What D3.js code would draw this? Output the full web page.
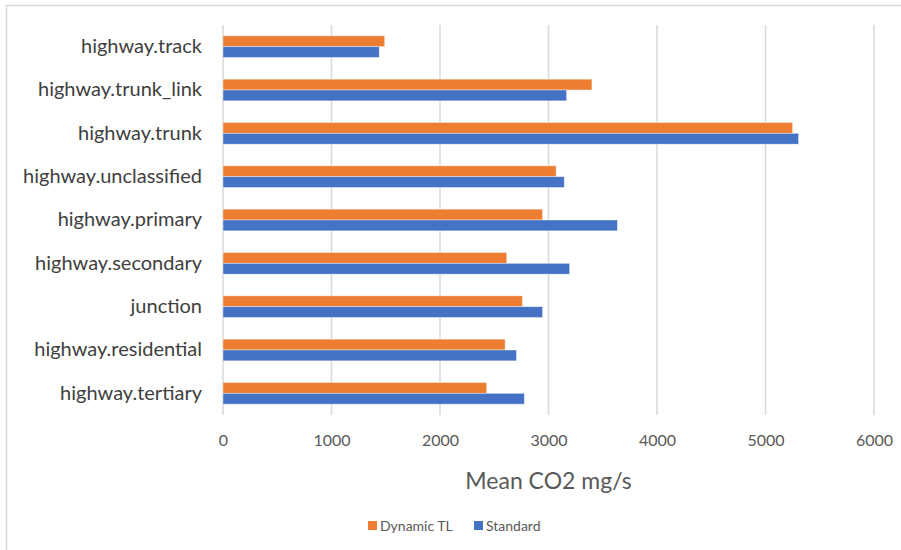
<!DOCTYPE html>
<html>
<head>
<meta charset="utf-8">
<script src="https://cdn.jsdelivr.net/npm/d3@7"></script>
<style>
body { margin: 0; background: #fff; }
text { font-family: Lato, "Open Sans", sans-serif; }
</style>
</head>
<body>
<svg id="svg" width="901" height="550"></svg>
<script>
// data, top to bottom as in the chart
var categories = ["highway.track", "highway.trunk_link", "highway.trunk", "highway.unclassified",
	"highway.primary", "highway.secondary", "junction", "highway.residential", "highway.tertiary"];
var dynamicTL = [1490, 3400, 5250, 3070, 2945, 2615, 2760, 2600, 2430];
var standard = [1440, 3167, 5305, 3145, 3635, 3195, 2945, 2705, 2777];
var seriesNames = ["Dynamic TL", "Standard"];
var seriesColors = ["#ED7D31", "#4472C4"];
var xTicks = [0, 1000, 2000, 3000, 4000, 5000, 6000];

var svg = d3.select("#svg");

// frame round the chart
svg.append("rect")
	.attr("x", 6.5).attr("y", 5.5)
	.attr("width", 920).attr("height", 560)
	.attr("fill", "none")
	.attr("stroke", "#d9d9d9")
	.attr("stroke-width", 1.5);

var plotLeft = 223, plotRight = 874, plotTop = 25, plotBottom = 415;

var x = d3.scaleLinear().domain([0, 6000]).range([plotLeft, plotRight]);
var y = d3.scaleBand().domain(categories).range([plotTop, plotBottom]).paddingInner(0.5).paddingOuter(0.25);
var ySub = d3.scaleBand().domain(seriesNames).range([0, y.bandwidth()]);

// gridlines
svg.append("g").selectAll("line").data(xTicks).enter()
	.append("line")
	.attr("x1", function(d){return x(d);})
	.attr("x2", function(d){return x(d);})
	.attr("y1", plotTop)
	.attr("y2", plotBottom)
	.attr("stroke", "#d9d9d9")
	.attr("stroke-width", 1.5);

// bars
var rows = categories.map(function(c, i){
	return {cat: c, vals: [dynamicTL[i], standard[i]]};
});
var groups = svg.append("g").selectAll("g").data(rows).enter()
	.append("g")
	.attr("transform", function(d){return "translate(0," + y(d.cat) + ")";});
groups.selectAll("rect").data(function(d){
		return d.vals.map(function(v, j){return {name: seriesNames[j], v: v, j: j};});
	}).enter()
	.append("rect")
	.attr("x", x(0))
	.attr("y", function(d){return ySub(d.name);})
	.attr("width", function(d){return x(d.v) - x(0);})
	.attr("height", ySub.bandwidth())
	.attr("fill", function(d){return seriesColors[d.j];})
	.attr("stroke", "#ffffff")
	.attr("stroke-opacity", 0.5)
	.attr("stroke-width", 0.8);

// category labels
var yAxis = svg.append("g")
	.attr("transform", "translate(" + (plotLeft - 21) + ",0)")
	.call(d3.axisLeft(y).tickSize(0).tickPadding(0));
yAxis.select(".domain").remove();
yAxis.selectAll("text")
	.attr("fill", "#404040")
	.style("font-size", "20px")
	.style("font-family", "Lato, 'Open Sans', sans-serif");

// x axis labels
var xAxis = svg.append("g")
	.attr("transform", "translate(0," + (plotBottom + 15) + ")")
	.call(d3.axisBottom(x).tickValues(xTicks).tickSize(0).tickPadding(0).tickFormat(d3.format("d")));
xAxis.select(".domain").remove();
xAxis.selectAll("text")
	.attr("fill", "#595959")
	.attr("dy", "1em")
	.style("font-size", "16px")
	.style("font-family", "Lato, 'Open Sans', sans-serif");

// axis title
svg.append("text")
	.attr("x", (plotLeft + plotRight) / 2)
	.attr("y", 489)
	.attr("text-anchor", "middle")
	.attr("fill", "#595959")
	.style("font-size", "23px")
	.text("Mean CO2 mg/s");

// legend
var legend = svg.append("g").attr("transform", "translate(368,520)");
var legX = [0, 106];
seriesNames.forEach(function(n, i){
	legend.append("rect")
		.attr("x", legX[i]).attr("y", 1)
		.attr("width", 9).attr("height", 9)
		.attr("fill", seriesColors[i]);
	legend.append("text")
		.attr("x", legX[i] + 12).attr("y", 11)
		.attr("fill", "#595959")
		.style("font-size", "14px")
		.text(n);
});
</script>
</body>
</html>
